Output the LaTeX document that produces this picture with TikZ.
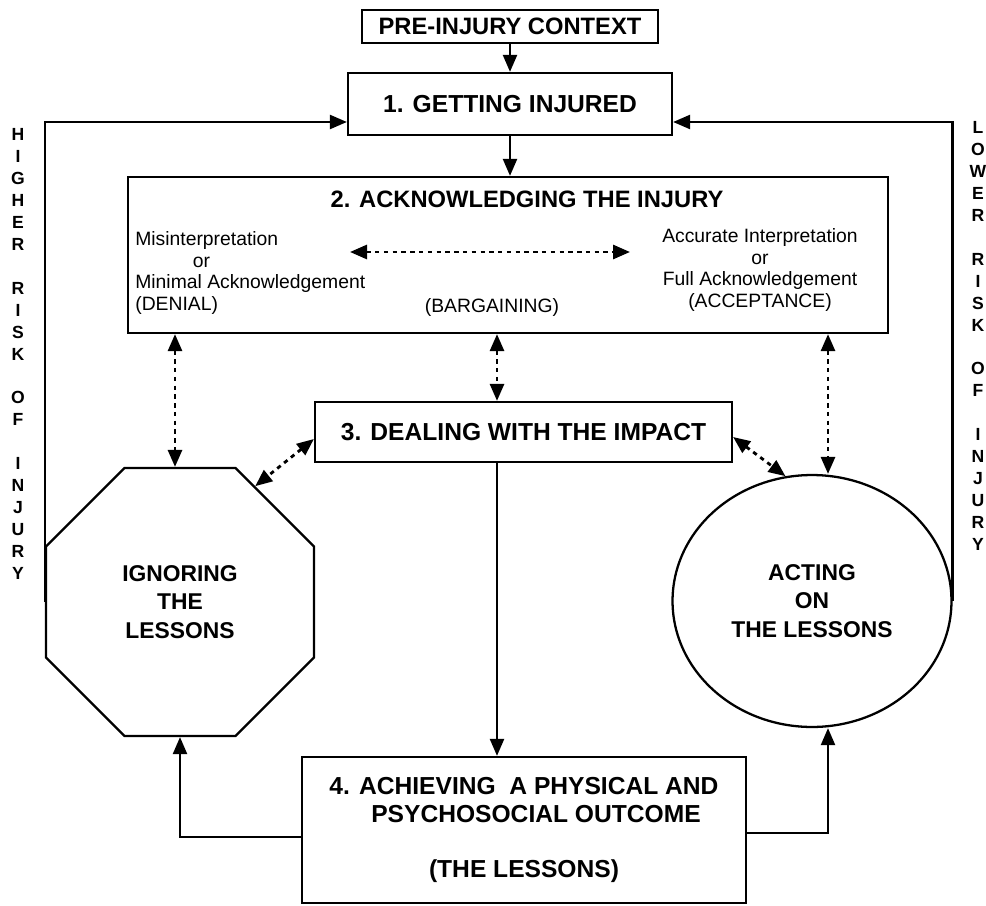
\documentclass[tikz,border=0pt]{standalone}
\usepackage{fontspec}
\setmainfont{Liberation Sans}
\usetikzlibrary{arrows.meta, positioning, shapes.geometric}

\begin{document}
\begin{tikzpicture}[x=0.02cm, y=-0.02cm,
    stage/.style={rectangle, draw, line width=1.3pt, inner sep=0pt,
                  font=\fontsize{14}{16}\selectfont\bfseries, align=center},
    lesson/.style={draw, line width=1.3pt, inner sep=0pt,
                   font=\fontsize{13}{16.2}\selectfont\bfseries, align=center},
    note/.style={inner sep=0pt, font=\fontsize{11}{12.5}\selectfont},
    side/.style={inner sep=0pt, font=\fontsize{10}{12.5}\selectfont\bfseries, align=center},
    arr/.style={-{Triangle[length=0.34cm, width=0.28cm]}, line width=1.3pt},
    darr/.style={{Triangle[length=0.34cm, width=0.28cm]}-{Triangle[length=0.34cm, width=0.28cm]},
                 line width=1.6pt, dash pattern=on 2.5pt off 2.5pt}
  ]
    \useasboundingbox (0,0) rectangle (986,905);

    % stages
    \node[stage, font=\fontsize{13.5}{16}\selectfont\bfseries,
          minimum width=5.92cm, minimum height=0.66cm] (pre) at (510,26.5) {PRE-INJURY CONTEXT};
    \node[stage, minimum width=6.48cm, minimum height=1.24cm] (inj) at (510,104) {1. GETTING INJURED};
    \node[stage, minimum width=15.2cm, minimum height=3.12cm] (ack) at (508,255) {};
    \node[font=\fontsize{13.5}{16}\selectfont\bfseries] (ackt) at (527,199) {2. ACKNOWLEDGING THE INJURY};
    \node[note, anchor=west, align=left] (den) at (135,273)
         {Misinterpretation\\\hspace{1.15cm}or\\Minimal Acknowledgement\\(DENIAL)};
    \node[note, align=center] (acc) at (760,270)
         {Accurate Interpretation\\or\\Full Acknowledgement\\(ACCEPTANCE)};
    \node[note] (barg) at (492,307) {(BARGAINING)};
    \node[stage, minimum width=8.34cm, minimum height=1.2cm] (imp) at (523.5,432) {3. DEALING WITH THE IMPACT};
    \node[lesson, regular polygon, regular polygon sides=8, minimum size=5.8cm] (ign) at (180,602)
         {IGNORING\\THE\\LESSONS};
    \node[lesson, ellipse, minimum width=5.58cm, minimum height=5.04cm] (act) at (812,601)
         {ACTING\\ON\\THE LESSONS};
    \node[stage, minimum width=8.88cm, minimum height=2.92cm] (out) at (524,830)
         {4. ACHIEVING\ \ A PHYSICAL AND\\\hspace{0.48cm}PSYCHOSOCIAL OUTCOME\\[0.54cm](THE LESSONS)};

    % side labels
    \node[side] (higher) at (18,354)
         {H\\I\\G\\H\\E\\R\\[12.5pt]R\\I\\S\\K\\[12.5pt]O\\F\\[12.5pt]I\\N\\J\\U\\R\\Y};
    \node[side] (lower) at (978,336)
         {L\\O\\W\\E\\R\\[12.5pt]R\\I\\S\\K\\[12.5pt]O\\F\\[12.5pt]I\\N\\J\\U\\R\\Y};

    % columns for the vertical links
    \coordinate (mid) at (497,0);
    \coordinate (lcol) at (175,0);
    \coordinate (rcol) at (828,0);
    \coordinate (bl) at (350,252);
    \coordinate (br) at (630,252);

    % main flow
    \draw[arr] (pre) -- (inj);
    \draw[arr] (inj.south) -- (inj.south |- ack.north);
    \draw[darr] (bl) -- (br);
    \draw[darr] (mid |- ack.south) -- (mid |- imp.north);
    \draw[darr] (lcol |- ack.south) -- (lcol |- ign.north);
    \draw[darr] (rcol |- ack.south) -- (rcol |- act.north);
    \draw[darr] ([yshift=-0.14cm]imp.west) -- (ign.57);
    \draw[darr] ([yshift=-0.1cm]imp.east) -- (act.102);
    \draw[arr] (mid |- imp.south) -- (mid |- out.north);

    % feedback
    \draw[arr] ([yshift=-0.14cm]out.west) -| (ign.south);
    \draw[arr] ([yshift=-0.06cm]out.east) -| (rcol |- act.south);
    \draw[arr] (ign.west) |- ([yshift=-0.36cm]inj.west);
    \draw[arr] (act.east) |- ([yshift=-0.36cm]inj.east);
\end{tikzpicture}
\end{document}
